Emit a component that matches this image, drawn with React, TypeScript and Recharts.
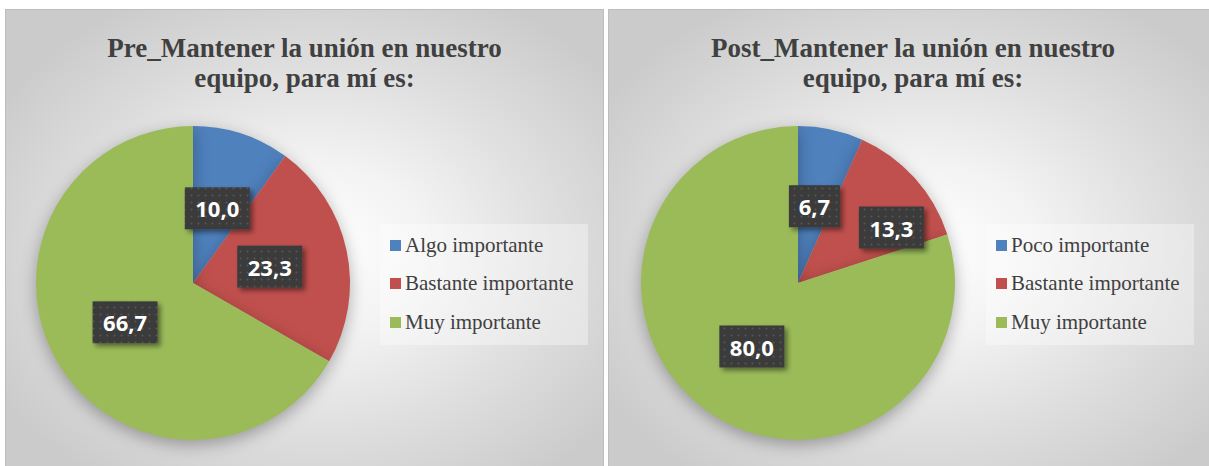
import React from 'react';
import { PieChart, Pie, Cell, Legend } from 'recharts';

const preCategories = ['Algo importante', 'Bastante importante', 'Muy importante'];
const preValues = [10.0, 23.3, 66.7];
const postCategories = ['Poco importante', 'Bastante importante', 'Muy importante'];
const postValues = [6.7, 13.3, 80.0];
const preTitle = ['Pre_Mantener la unión en nuestro', 'equipo, para mí es:'];
const postTitle = ['Post_Mantener la unión en nuestro', 'equipo, para mí es:'];
const sliceColors = ['#4F81BD', '#C0504D', '#9BBB59'];

const RAD = Math.PI / 180;
const fmt = (v: number) => v.toFixed(1).replace('.', ',');
const SERIF = "'Liberation Serif', 'Times New Roman', serif";

type PanelProps = {
  left: number;
  width: number;
  pieX: number;
  legendX: number;
  title: string[];
  categories: string[];
  values: number[];
  nudges: number[][];
};

function makeLabel(nudges: number[][]) {
  return (props: any) => {
    const { cx, cy, midAngle, outerRadius, value, index } = props;
    const r = outerRadius * 0.5;
    const nx = nudges[index] ? nudges[index][0] : 0;
    const ny = nudges[index] ? nudges[index][1] : 0;
    const x = cx + r * Math.cos(-midAngle * RAD) + nx;
    const y = cy + r * Math.sin(-midAngle * RAD) + ny;
    const txt = fmt(value);
    const w = txt.length >= 4 ? 65 : 51;
    const h = 42;
    return (
      <g key={'lbl' + index}>
        <rect x={x - w / 2} y={y - h / 2} width={w} height={h} fill="url(#dotPat)" filter="url(#boxShadow)" />
        <text
          x={x}
          y={y}
          textAnchor="middle"
          dominantBaseline="central"
          fill="#ffffff"
          fontFamily="'Open Sans', 'Noto Sans', sans-serif"
          fontWeight={700}
          fontSize={22}
        >
          {txt}
        </text>
      </g>
    );
  };
}

function Panel({ left, width, pieX, legendX, title, categories, values, nudges }: PanelProps) {
  const data = categories.map((c, i) => ({ name: c, value: values[i] }));
  return (
    <div
      style={{
        position: 'absolute',
        left,
        top: 9,
        width,
        height: 462,
        boxSizing: 'border-box',
        border: '1px solid #bdbdbd',
        background:
          'radial-gradient(ellipse 62% 62% at 52% 52%, #ffffff 0%, #f3f3f3 30%, #dedede 65%, #cbcbcb 100%)',
      }}
    >
      <div
        style={{
          position: 'absolute',
          left: 0,
          top: 23,
          width: '100%',
          textAlign: 'center',
          fontFamily: SERIF,
          fontWeight: 700,
          fontSize: 27,
          lineHeight: '30px',
          color: '#404040',
        }}
      >
        {title.map((t, i) => (
          <div key={i}>{t}</div>
        ))}
      </div>
      <div style={{ position: 'absolute', left: 0, top: 0 }}>
        <PieChart width={width - 2} height={458} margin={{ top: 0, right: 0, bottom: 0, left: 0 }}>
          <Pie
            data={data}
            dataKey="value"
            nameKey="name"
            cx={pieX}
            cy={273}
            outerRadius={157}
            startAngle={90}
            endAngle={-270}
            stroke="none"
            isAnimationActive={false}
            labelLine={false}
            label={makeLabel(nudges)}
          >
            {data.map((d, i) => (
              <Cell key={i} fill={sliceColors[i]} />
            ))}
          </Pie>
          <Legend
            layout="vertical"
            align="right"
            verticalAlign="middle"
            wrapperStyle={{ left: legendX, top: 214, width: 208, height: 121, right: 'auto', bottom: 'auto' }}
            content={() => (
              <div
                style={{
                  width: 208,
                  height: 121,
                  background: 'rgba(255,255,255,0.35)',
                  paddingTop: 2,
                  boxSizing: 'border-box',
                }}
              >
                {categories.map((c, i) => (
                  <div
                    key={i}
                    style={{
                      height: 38.5,
                      display: 'flex',
                      alignItems: 'center',
                      paddingLeft: 10,
                      fontFamily: SERIF,
                      fontSize: 21,
                      color: '#404040',
                      whiteSpace: 'nowrap',
                    }}
                  >
                    <span
                      style={{
                        display: 'inline-block',
                        width: 11,
                        height: 11,
                        background: sliceColors[i],
                        marginRight: 4,
                      }}
                    />
                    {c}
                  </div>
                ))}
              </div>
            )}
          />
        </PieChart>
      </div>
    </div>
  );
}

export default function App() {
  return (
    <div
      style={{
        position: 'absolute',
        left: 0,
        top: 0,
        width: 1209,
        height: 466,
        overflow: 'hidden',
        background: '#ffffff',
      }}
    >
      <style>{`.recharts-pie-sector { filter: drop-shadow(0px 5px 8px rgba(0,0,0,0.3)); }`}</style>
      <svg width={0} height={0} style={{ position: 'absolute' }}>
        <defs>
          <pattern id="dotPat" x={0} y={0} width={7} height={7} patternUnits="userSpaceOnUse">
            <rect x={0} y={0} width={7} height={7} fill="#3b3b3b" />
            <circle cx={3.5} cy={3.5} r={1} fill="#555555" />
          </pattern>
          <filter id="boxShadow" x="-30%" y="-30%" width="160%" height="160%">
            <feDropShadow dx={3} dy={3} stdDeviation={2.5} floodColor="#000000" floodOpacity={0.45} />
          </filter>
        </defs>
      </svg>
      <Panel left={5} width={599} pieX={187} legendX={374} title={preTitle} categories={preCategories} values={preValues} nudges={[[0, 0], [0, 0], [0, 0]]} />
      <Panel left={608} width={610} pieX={189} legendX={377} title={postTitle} categories={postCategories} values={postValues} nudges={[[0, 0], [35, -3], [0, 0]]} />
    </div>
  );
}
